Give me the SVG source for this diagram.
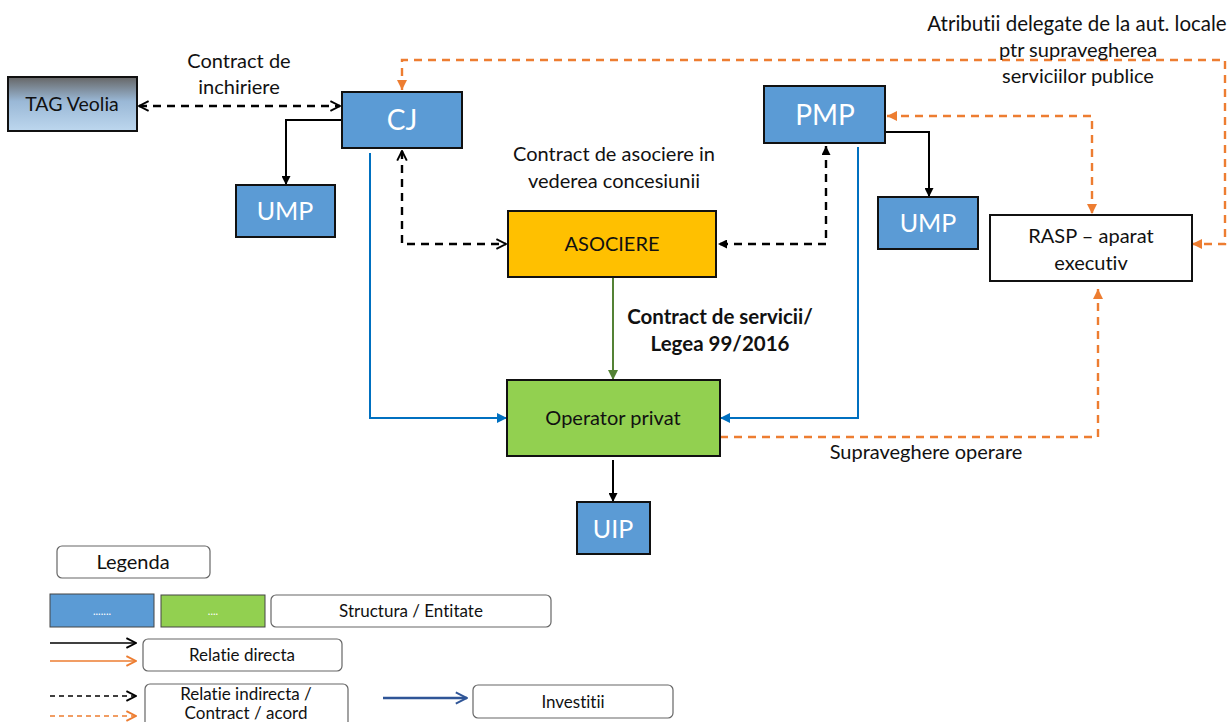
<svg xmlns="http://www.w3.org/2000/svg" width="1230" height="722" viewBox="0 0 1230 722">
<style>
text{font-family:Lato,"Liberation Sans",sans-serif;fill:#111;text-anchor:middle;font-variant-ligatures:none;font-feature-settings:"liga" 0,"dlig" 0}
.box{stroke:#111;stroke-width:2}
.blue{fill:#5b9bd5}
.lg{fill:#fff;stroke:#666;stroke-width:1.2}
.k{fill:none;stroke:#000;stroke-width:2}
.kd{fill:none;stroke:#000;stroke-width:2.4;stroke-dasharray:8 6}
.od{fill:none;stroke:#ed7d31;stroke-width:2.4;stroke-dasharray:8 6}
.b{fill:none;stroke:#0070c0;stroke-width:2}
</style>
<defs>
<linearGradient id="tag" x1="0" y1="0" x2="0" y2="1">
<stop offset="0" stop-color="#666"/><stop offset="0.45" stop-color="#9ab8d6"/><stop offset="1" stop-color="#bdd7ee"/>
</linearGradient>
<marker id="aKf" viewBox="0 0 10 10" refX="10" refY="5" markerWidth="9" markerHeight="9" orient="auto-start-reverse" markerUnits="userSpaceOnUse"><path d="M0,0L10,5L0,10z" fill="#000"/></marker>
<marker id="aKo" viewBox="0 0 10 10" refX="9" refY="5" markerWidth="12" markerHeight="12" orient="auto-start-reverse" markerUnits="userSpaceOnUse"><path d="M1,1L9,5L1,9" fill="none" stroke="#000" stroke-width="1.6"/></marker>
<marker id="aO" viewBox="0 0 10 10" refX="10" refY="5" markerWidth="10" markerHeight="10" orient="auto-start-reverse" markerUnits="userSpaceOnUse"><path d="M0,0L10,5L0,10z" fill="#ed7d31"/></marker>
<marker id="aOo" viewBox="0 0 10 10" refX="9" refY="5" markerWidth="12" markerHeight="12" orient="auto-start-reverse" markerUnits="userSpaceOnUse"><path d="M1,1L9,5L1,9" fill="none" stroke="#ed7d31" stroke-width="1.6"/></marker>
<marker id="aB" viewBox="0 0 10 10" refX="10" refY="5" markerWidth="10" markerHeight="10" orient="auto-start-reverse" markerUnits="userSpaceOnUse"><path d="M0,0L10,5L0,10z" fill="#0070c0"/></marker>
<marker id="aG" viewBox="0 0 10 10" refX="10" refY="5" markerWidth="10" markerHeight="10" orient="auto-start-reverse" markerUnits="userSpaceOnUse"><path d="M0,0L10,5L0,10z" fill="#548235"/></marker>
<marker id="aDB" viewBox="0 0 10 10" refX="9" refY="5" markerWidth="14" markerHeight="14" orient="auto-start-reverse" markerUnits="userSpaceOnUse"><path d="M1,1L9,5L1,9" fill="none" stroke="#2f5597" stroke-width="1.4"/></marker>
</defs>

<g id="connectors">
<path class="kd" d="M139,106H340" marker-start="url(#aKo)" marker-end="url(#aKo)"/>
<path class="k" d="M342,120H286V185" marker-end="url(#aKf)"/>
<path class="kd" d="M402,151V244H506" marker-start="url(#aKo)" marker-end="url(#aKo)"/>
<path class="kd" d="M826,146V244H718" marker-start="url(#aKf)" marker-end="url(#aKf)"/>
<path class="k" d="M885,132H929V197" marker-end="url(#aKf)"/>
<path d="M613,277V380" fill="none" stroke="#548235" stroke-width="2" marker-end="url(#aG)"/>
<path class="b" d="M370,153V418H507" marker-end="url(#aB)"/>
<path class="b" d="M858,147V418H720" marker-end="url(#aB)"/>
<path class="k" d="M613,460V502" marker-end="url(#aKf)"/>
<path class="od" d="M720,437H1098V289" marker-end="url(#aO)"/>
<path class="od" d="M402,90V60H1225V244H1192" marker-start="url(#aO)" marker-end="url(#aO)"/>
<path class="od" d="M887,116H1092V214" marker-start="url(#aO)" marker-end="url(#aO)"/>
</g>

<g id="tag-veolia"><rect class="box" x="8" y="77" width="129" height="54" fill="url(#tag)"/><text x="72" y="111" font-size="19.5">TAG Veolia</text></g>
<g id="cj"><rect class="box blue" x="342" y="92" width="120" height="56"/><text x="402" y="130" font-size="28" style="fill:#fff">CJ</text></g>
<g id="ump-left"><rect class="box blue" x="236" y="185" width="99" height="52"/><text x="285" y="220" font-size="25" style="fill:#fff">UMP</text></g>
<g id="pmp"><rect class="box blue" x="764" y="86" width="121" height="57"/><text x="825" y="125" font-size="28" style="fill:#fff">PMP</text></g>
<g id="ump-right"><rect class="box blue" x="878" y="197" width="100" height="52"/><text x="928" y="232" font-size="25" style="fill:#fff">UMP</text></g>
<g id="rasp"><rect class="box" x="990" y="215" width="202" height="66" fill="#fff"/><text x="1091" y="243" font-size="20">RASP – aparat</text><text x="1091" y="270" font-size="20">executiv</text></g>
<g id="asociere"><rect class="box" x="508" y="211" width="208" height="66" fill="#ffc000"/><text x="612" y="251" font-size="20">ASOCIERE</text></g>
<g id="operator"><rect class="box" x="507" y="380" width="213" height="76" fill="#92d050"/><text x="613" y="425" font-size="20">Operator privat</text></g>
<g id="uip"><rect class="box blue" x="577" y="502" width="73" height="52"/><text x="613" y="538" font-size="25" style="fill:#fff">UIP</text></g>

<g id="labels">
<text x="239" y="68" font-size="20">Contract de</text>
<text x="239" y="94" font-size="20">inchiriere</text>
<text x="614" y="161" font-size="20">Contract de asociere in</text>
<text x="614" y="188" font-size="20">vederea concesiunii</text>
<text x="720" y="324" font-size="20.5" font-weight="bold">Contract de servicii/</text>
<text x="720" y="351" font-size="20.5" font-weight="bold">Legea 99/2016</text>
<text x="1077" y="31" font-size="20.5">Atributii delegate de la aut. locale</text>
<text x="1078" y="57" font-size="20">ptr supravegherea</text>
<text x="1078" y="83" font-size="20">serviciilor publice</text>
<text x="926" y="459" font-size="20">Supraveghere operare</text>
</g>

<g id="legend">
<rect class="lg" x="57" y="546" width="153" height="32" rx="5"/><text x="133" y="569" font-size="20">Legenda</text>
<rect x="50" y="594" width="104" height="33" fill="#5b9bd5" stroke="#444" stroke-width="1"/><text x="102" y="615" font-size="11" style="fill:#fff">.......</text>
<rect x="161" y="595" width="104" height="32" fill="#92d050" stroke="#444" stroke-width="1"/><text x="213" y="615" font-size="11" style="fill:#fff">....</text>
<rect class="lg" x="271" y="595" width="280" height="32" rx="5"/><text x="411" y="617" font-size="17">Structura / Entitate</text>
<path d="M50,643H136" stroke="#000" stroke-width="1.5" fill="none" marker-end="url(#aKo)"/>
<path d="M50,661H136" stroke="#ed7d31" stroke-width="1.5" fill="none" marker-end="url(#aOo)"/>
<rect class="lg" x="143" y="639" width="199" height="32" rx="5"/><text x="242" y="661" font-size="17">Relatie directa</text>
<path d="M50,696H136" stroke="#000" stroke-width="1.5" stroke-dasharray="5 4" fill="none" marker-end="url(#aKo)"/>
<path d="M50,716H136" stroke="#ed7d31" stroke-width="1.5" stroke-dasharray="5 4" fill="none" marker-end="url(#aOo)"/>
<rect class="lg" x="145" y="684" width="203" height="46" rx="5"/><text x="246" y="700" font-size="17">Relatie indirecta /</text><text x="246" y="719" font-size="17">Contract / acord</text>
<path d="M383,698H467" stroke="#2f5597" stroke-width="2.5" fill="none" marker-end="url(#aDB)"/>
<rect class="lg" x="473" y="685" width="200" height="33" rx="5"/><text x="573" y="708" font-size="17">Investitii</text>
</g>
</svg>
